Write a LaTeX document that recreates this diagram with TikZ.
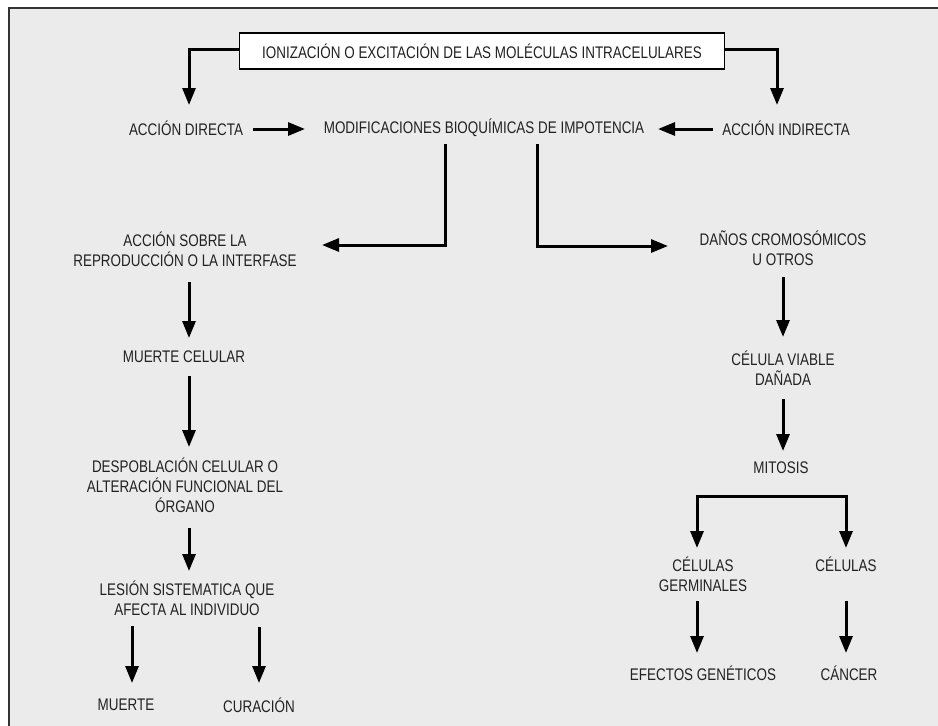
\documentclass[tikz,border=0pt]{standalone}
\usepackage{fontspec}
\setmainfont{Liberation Sans}[FakeStretch=0.80]
\usetikzlibrary{arrows.meta}
\definecolor{bgc}{HTML}{EBEBEB}
\definecolor{framec}{HTML}{333333}
\definecolor{txt}{HTML}{222222}
\tikzset{
  lbl/.style={inner sep=0pt, align=center, text=txt, font=\fontsize{16.8}{20}\selectfont},
  arr/.style={line width=3pt, -{Triangle[length=17pt,width=13pt]}},
}
\begin{document}
\begin{tikzpicture}[x=1pt,y=-1pt]
\useasboundingbox (0,0) rectangle (938,726);
\fill[bgc] (9,8) rectangle (940,728);
\draw[framec, line width=1.6pt] (9,728) -- (9,8) -- (940,8);

\node[lbl, draw=black, line width=1.3pt, fill=white, minimum width=485pt, minimum height=36pt] (ion) at (482,51) {IONIZACIÓN O EXCITACIÓN DE LAS MOLÉCULAS INTRACELULARES};
\node[lbl] (ad) at (186,128) {ACCIÓN DIRECTA};
\node[lbl] (mod) at (484,128) {MODIFICACIONES BIOQUÍMICAS DE IMPOTENCIA};
\node[lbl] (ai) at (786,128) {ACCIÓN INDIRECTA};
\node[lbl] (aso) at (185,249) {ACCIÓN SOBRE LA\\REPRODUCCIÓN O LA INTERFASE};
\node[lbl] (mc) at (184,357) {MUERTE CELULAR};
\node[lbl] (dc) at (185,485) {DESPOBLACIÓN CELULAR O\\ALTERACIÓN FUNCIONAL DEL\\ÓRGANO};
\node[lbl] (les) at (187,598) {LESIÓN SISTEMATICA QUE\\AFECTA AL INDIVIDUO};
\node[lbl] (muerte) at (126,705) {MUERTE};
\node[lbl] (cur) at (259,705) {CURACIÓN};
\node[lbl] (dan) at (783,248) {DAÑOS CROMOSÓMICOS\\U OTROS};
\node[lbl] (cv) at (783,368) {CÉLULA VIABLE\\DAÑADA};
\node[lbl] (mit) at (781,468) {MITOSIS};
\node[lbl] (cg) at (703,574) {CÉLULAS\\GERMINALES};
\node[lbl] (cel) at (846,564) {CÉLULAS};
\node[lbl] (ef) at (703,673) {EFECTOS GENÉTICOS};
\node[lbl] (can) at (849,673) {CÁNCER};

\draw[arr] ([yshift=2pt]ion.west) -| ([xshift=3pt,yshift=23pt]ad.center);
\draw[arr] ([yshift=2pt]ion.east) -| ([xshift=-9pt,yshift=23pt]ai.center);
\draw[arr] ([xshift=67pt,yshift=-1pt]ad.center) -- ([xshift=-179pt,yshift=-1pt]mod.center);
\draw[arr] ([xshift=-73pt,yshift=-1pt]ai.center) -- ([xshift=174pt,yshift=-1pt]mod.center);
\draw[arr] ([xshift=-39pt,yshift=-16pt]mod.center) |- ([xshift=137pt,yshift=4pt]aso.center);
\draw[arr] ([xshift=53pt,yshift=-16pt]mod.center) |- ([xshift=-115pt,yshift=2pt]dan.center);
\draw[arr] ([xshift=4pt,yshift=-33pt]aso.center) -- ([xshift=5pt,yshift=19pt]mc.center);
\draw[arr] ([xshift=5pt,yshift=-19pt]mc.center) -- ([xshift=4pt,yshift=38pt]dc.center);
\draw[arr] ([xshift=4pt,yshift=-43pt]dc.center) -- ([xshift=2pt,yshift=27pt]les.center);
\draw[arr] ([xshift=-55pt,yshift=-28pt]les.center) -- ([xshift=6pt,yshift=22pt]muerte.center);
\draw[arr] ([xshift=72pt,yshift=-29pt]les.center) -- ([xshift=0pt,yshift=22pt]cur.center);
\draw[arr] ([yshift=-29pt]dan.center) -- ([yshift=31pt]cv.center);
\draw[arr] ([yshift=-31pt]cv.center) -- ([xshift=2pt,yshift=17pt]mit.center);
\draw[arr] ([yshift=-28pt]mit.center) -| ([xshift=-6pt,yshift=26pt]cg.center);
\draw[arr] ([yshift=-28pt]mit.center) -| ([yshift=16pt]cel.center);
\draw[arr] ([xshift=-6pt,yshift=-27pt]cg.center) -- ([xshift=-6pt,yshift=20pt]ef.center);
\draw[arr] ([yshift=-37pt]cel.center) -- ([xshift=-3pt,yshift=20pt]can.center);
\end{tikzpicture}
\end{document}
